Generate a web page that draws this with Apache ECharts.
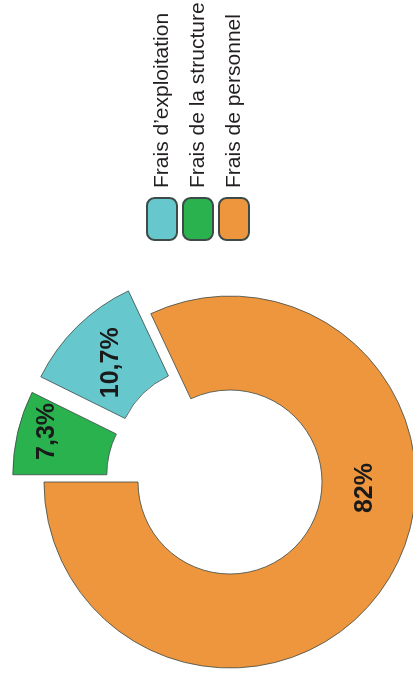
<!DOCTYPE html>
<html>
<head>
<meta charset="utf-8">
<script src="https://cdn.jsdelivr.net/npm/echarts@6/dist/echarts.min.js"></script>
<style>
  html, body { margin: 0; padding: 0; background: #fff; overflow: hidden; width: 413px; height: 679px; }
  #chart { position: absolute; left: 0; top: 0; width: 679px; height: 413px;
           transform-origin: 0 0; transform: translateY(679px) rotate(-90deg); }
</style>
</head>
<body>
<div id="chart"></div>
<script>
// Data (drawing order, clockwise from top)
const categories = ["Frais de la structure", "Frais d\u2019exploitation", "Frais de personnel"];
const values = [7.3, 10.7, 82];
const exploded = [true, true, false];
const legendOrder = ["Frais d\u2019exploitation", "Frais de la structure", "Frais de personnel"];

const colors = ["#2AB24F", "#66C8CD", "#EE963E"];
const labelOffsets = [[11, -13], [-5, 3], [70, 15]];

const chart = echarts.init(document.getElementById('chart'), null, { renderer: 'canvas' });

const fmt = v => String(v).replace('.', ',') + '%';

chart.setOption({
  animation: false,
  legend: {
    orient: 'vertical',
    left: 438,
    top: 146,
    padding: 0,
    itemWidth: 42,
    itemHeight: 30,
    itemGap: 4,
    icon: 'roundRect',
    data: legendOrder,
    selectedMode: false,
    textStyle: { fontFamily: 'Liberation Sans, Arial, sans-serif', fontSize: 21, lineHeight: 30, color: '#231F20', padding: [0, 0, 0, 5] }
  },
  series: [{
    type: 'pie',
    center: [197, 230],
    radius: [92, 186],
    startAngle: 90,
    clockwise: true,
    selectedMode: 'multiple',
    selectedOffset: 32,
    avoidLabelOverlap: false,
    emphasis: { disabled: true },
    itemStyle: { borderColor: '#3C4A48', borderWidth: 0.8 },
    label: {
      show: true,
      position: 'inside',
      fontFamily: 'Liberation Sans, Arial, sans-serif',
      fontWeight: 'bold',
      fontSize: 25,
      color: '#1A1A1A',
      formatter: p => fmt(p.value)
    },
    labelLine: { show: false },
    data: categories.map((c, i) => ({
      name: c,
      value: values[i],
      selected: exploded[i],
      itemStyle: { color: colors[i] },
      label: { offset: labelOffsets[i] },
      select: { label: { offset: labelOffsets[i] } }
    }))
  }]
});
</script>
</body>
</html>
